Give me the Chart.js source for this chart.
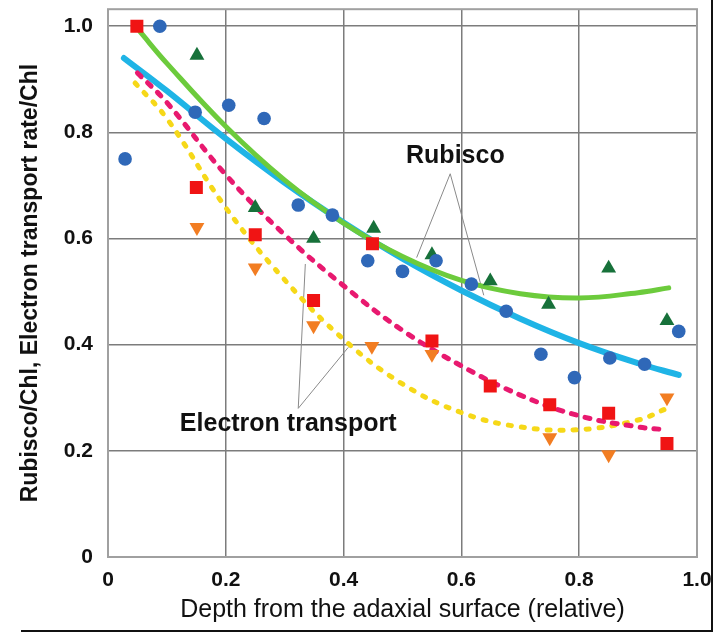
<!DOCTYPE html>
<html>
<head>
<meta charset="utf-8">
<script src="https://cdn.jsdelivr.net/npm/chart.js@4.4.1/dist/chart.umd.min.js"></script>
<style>
  html, body { margin: 0; padding: 0; background: #fff; }
  #wrap { position: relative; width: 715px; height: 633px; }
  #frame { position: absolute; left: 21px; top: 0; width: 690px; height: 630px;
           border-right: 2px solid #111; border-bottom: 2px solid #111; pointer-events: none; }
</style>
</head>
<body>
<div id="wrap">
  <canvas id="chart" width="715" height="633"></canvas>
  <div id="frame"></div>
</div>
<script>
// axis ticks
const xTicks = [0, 0.2, 0.4, 0.6, 0.8, 1.0];
const xTickLabels = ['0', '0.2', '0.4', '0.6', '0.8', '1.0'];
const yTicks = [0, 0.2, 0.4, 0.6, 0.8, 1.0];
const yTickLabels = ['0', '0.2', '0.4', '0.6', '0.8', '1.0'];

// Rubisco/Chl, blue circles
const rubiscoCircleDepth = [0.029, 0.088, 0.148, 0.205, 0.265, 0.323, 0.381, 0.441, 0.500, 0.557, 0.617, 0.676, 0.735, 0.792, 0.852, 0.911, 0.969];
const rubiscoCircleValue = [0.750, 1.000, 0.838, 0.851, 0.826, 0.663, 0.644, 0.558, 0.538, 0.558, 0.514, 0.463, 0.382, 0.338, 0.375, 0.363, 0.425];

// Rubisco/Chl, green triangles
const rubiscoTriDepth = [0.151, 0.250, 0.349, 0.451, 0.550, 0.649, 0.748, 0.850, 0.949];
const rubiscoTriValue = [0.945, 0.658, 0.600, 0.619, 0.569, 0.520, 0.476, 0.544, 0.445];

// Electron transport, red squares
const etrSquareDepth = [0.049, 0.150, 0.250, 0.349, 0.449, 0.550, 0.649, 0.750, 0.850, 0.949];
const etrSquareValue = [1.000, 0.696, 0.607, 0.483, 0.590, 0.407, 0.322, 0.287, 0.271, 0.214];

// Electron transport, orange down triangles
const etrTriDepth = [0.151, 0.250, 0.349, 0.448, 0.550, 0.750, 0.850, 0.949];
const etrTriValue = [0.621, 0.545, 0.436, 0.397, 0.382, 0.225, 0.193, 0.300];

// fitted curves
const rubiscoTriFitX = [0.054, 0.1, 0.2, 0.3, 0.4, 0.5, 0.6, 0.7, 0.8, 0.9, 0.952];
const rubiscoTriFitY = [0.990, 0.930, 0.811, 0.710, 0.629, 0.566, 0.521, 0.496, 0.488, 0.498, 0.507];

const rubiscoCircleFitX = [0.027, 0.1, 0.2, 0.3, 0.4, 0.5, 0.6, 0.7, 0.8, 0.9, 0.969];
const rubiscoCircleFitY = [0.940, 0.878, 0.788, 0.705, 0.630, 0.562, 0.502, 0.449, 0.403, 0.365, 0.343];

const etrSquareFitX = [0.05, 0.1, 0.2, 0.3, 0.4, 0.5, 0.6, 0.7, 0.8, 0.9, 0.944];
const etrSquareFitY = [0.912, 0.856, 0.720, 0.607, 0.511, 0.427, 0.360, 0.305, 0.266, 0.245, 0.240];

const etrTriFitX = [0.046, 0.1, 0.2, 0.3, 0.4, 0.5, 0.6, 0.7, 0.8, 0.9, 0.949];
const etrTriFitY = [0.893, 0.826, 0.658, 0.522, 0.410, 0.326, 0.272, 0.245, 0.240, 0.258, 0.280];

const FONT = "'Liberation Sans', Arial, Helvetica, sans-serif";

function pts(xs, ys) {
  return xs.map((x, i) => ({ x: x, y: ys[i] }));
}

function curve(xs, ys, color, width, dash) {
  return {
    type: 'line',
    data: pts(xs, ys),
    showLine: true,
    borderColor: color,
    borderWidth: width,
    borderDash: dash || [],
    borderCapStyle: 'round',
    borderJoinStyle: 'round',
    tension: 0.4,
    pointRadius: 0,
    fill: false,
    order: 2
  };
}

function markers(xs, ys, color, style, radius, rotation) {
  return {
    type: 'scatter',
    data: pts(xs, ys),
    backgroundColor: color,
    borderColor: color,
    borderWidth: 0,
    pointStyle: style,
    pointRadius: radius,
    rotation: rotation || 0,
    order: 1
  };
}

// keep the plot box where the figure has it, labels may hang over
function noScalePadding(scale) {
  scale.paddingLeft = 0;
  scale.paddingRight = 0;
  scale.paddingTop = 0;
  scale.paddingBottom = 0;
}

const annotationPlugin = {
  id: 'annotations',
  beforeDatasetsDraw(chart) {
    const { ctx, scales: { x, y } } = chart;
    const notes = chart.options.plugins.annotations.items;
    ctx.save();
    ctx.strokeStyle = '#8a8a8a';
    ctx.lineWidth = 1;
    notes.forEach(n => {
      n.lines.forEach(end => {
        ctx.beginPath();
        ctx.moveTo(x.getPixelForValue(n.apex[0]), y.getPixelForValue(n.apex[1]));
        ctx.lineTo(x.getPixelForValue(end[0]), y.getPixelForValue(end[1]));
        ctx.stroke();
      });
    });
    ctx.restore();
  },
  afterDatasetsDraw(chart) {
    const { ctx, chartArea: a, scales: { x, y } } = chart;
    const notes = chart.options.plugins.annotations.items;
    ctx.save();
    // plot box
    ctx.strokeStyle = '#a0a0a0';
    ctx.lineWidth = 2;
    ctx.strokeRect(a.left, a.top, a.right - a.left, a.bottom - a.top);
    ctx.fillStyle = '#111';
    ctx.font = 'bold 25px ' + FONT;
    ctx.textAlign = 'left';
    ctx.textBaseline = 'middle';
    notes.forEach(n => {
      ctx.fillText(n.text, x.getPixelForValue(n.at[0]), y.getPixelForValue(n.at[1]));
    });
    ctx.restore();
  }
};

new Chart(document.getElementById('chart'), {
  type: 'scatter',
  data: {
    datasets: [
      markers(etrSquareDepth, etrSquareValue, '#f01414', 'rect', 9.2),
      markers(rubiscoCircleDepth, rubiscoCircleValue, '#2f68b8', 'circle', 6.8),
      markers(rubiscoTriDepth, rubiscoTriValue, '#17713a', 'triangle', 8.6),
      markers(etrTriDepth, etrTriValue, '#f27d22', 'triangle', 8.6, 180),
      curve(etrSquareFitX, etrSquareFitY, '#e8196f', 5, [5, 9]),
      curve(rubiscoTriFitX, rubiscoTriFitY, '#6ccb3c', 5),
      curve(rubiscoCircleFitX, rubiscoCircleFitY, '#1fb4e6', 6),
      curve(etrTriFitX, etrTriFitY, '#f6d818', 5, [3, 10])
    ]
  },
  options: {
    responsive: false,
    animation: false,
    layout: { padding: { top: 8, right: 18, left: 0, bottom: 0 } },
    plugins: {
      legend: { display: false },
      tooltip: { enabled: false },
      annotations: {
        items: [
          { text: 'Rubisco', at: [0.506, 0.755], apex: [0.581, 0.722], lines: [[0.524, 0.564], [0.638, 0.493]] },
          { text: 'Electron transport', at: [0.122, 0.250], apex: [0.323, 0.280], lines: [[0.335, 0.552], [0.408, 0.395]] }
        ]
      }
    },
    scales: {
      x: {
        type: 'linear',
        min: 0,
        max: 1.0,
        afterFit(scale) { scale.height = 76; noScalePadding(scale); },
        afterBuildTicks(scale) { scale.ticks = xTicks.map(v => ({ value: v })); },
        border: { display: false },
        grid: {
          drawTicks: false,
          lineWidth: 1.5,
          color: c => (c.tick && (c.tick.value === 0 || c.tick.value === 1)) ? 'rgba(0,0,0,0)' : '#7c7c7c'
        },
        ticks: {
          padding: 11,
          color: '#111',
          font: { family: FONT, size: 21, weight: 'bold' },
          maxRotation: 0,
          callback: (v) => xTickLabels[xTicks.indexOf(v)]
        },
        title: {
          display: true,
          text: 'Depth from the adaxial surface (relative)',
          color: '#111',
          font: { family: FONT, size: 25, weight: 'normal' },
          padding: { top: 0, bottom: 8 }
        }
      },
      y: {
        type: 'linear',
        min: 0,
        max: 1.032,
        afterFit(scale) { scale.width = 108; noScalePadding(scale); },
        afterBuildTicks(scale) { scale.ticks = yTicks.map(v => ({ value: v })); },
        border: { display: false },
        grid: {
          drawTicks: false,
          lineWidth: 1.5,
          color: c => (c.tick && c.tick.value === 0) ? 'rgba(0,0,0,0)' : '#7c7c7c'
        },
        ticks: {
          padding: 15,
          color: '#111',
          font: { family: FONT, size: 21, weight: 'bold' },
          callback: (v) => yTickLabels[yTicks.indexOf(v)]
        },
        title: {
          display: true,
          text: 'Rubisco/Chl, Electron transport rate/Chl',
          color: '#111',
          font: { family: FONT, size: 23, weight: 'bold' },
          padding: { top: 17, bottom: 0 }
        }
      }
    }
  },
  plugins: [annotationPlugin]
});
</script>
</body>
</html>
